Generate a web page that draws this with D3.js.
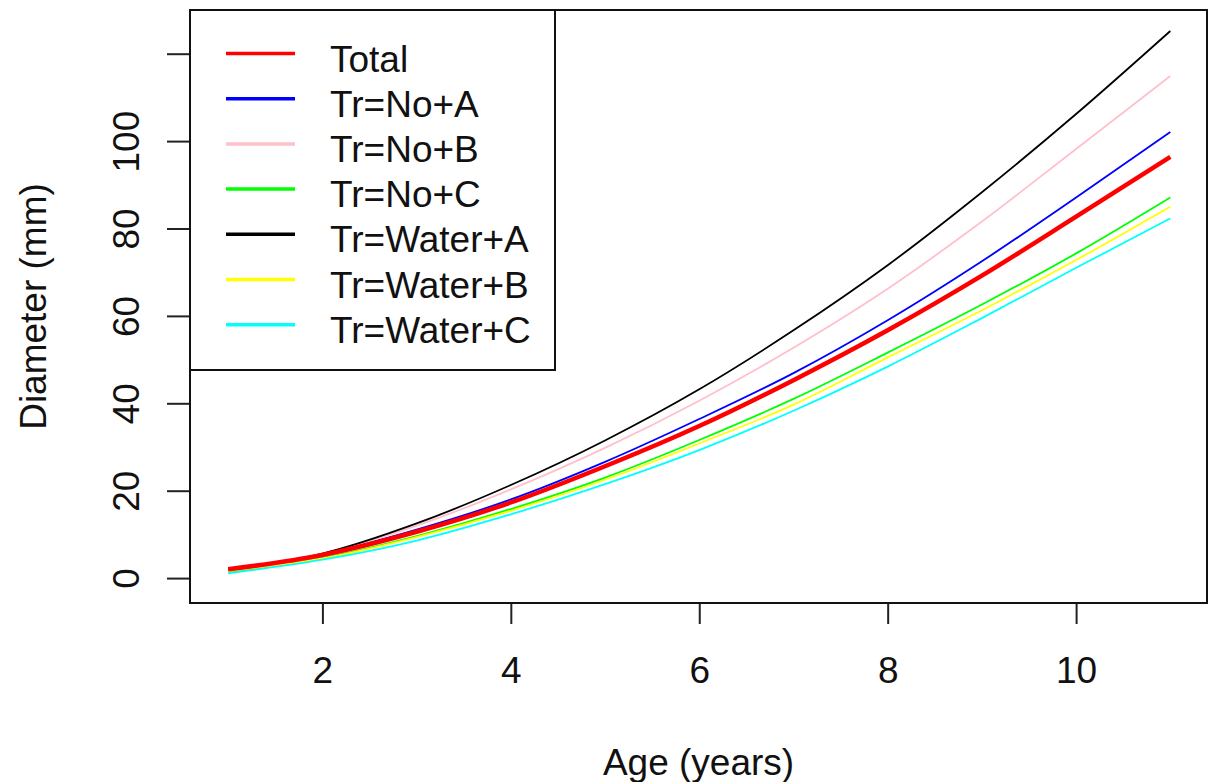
<!DOCTYPE html>
<html>
<head>
<meta charset="utf-8">
<script src="https://cdn.jsdelivr.net/npm/d3@7"></script>
<style>
  html, body { margin: 0; padding: 0; background: #fff; }
  svg { display: block; }
</style>
</head>
<body>
<div id="chart"></div>
<script>
// data (diameter in mm at each age)
const ages = [1, 2, 3, 4, 5, 6, 7, 8, 9, 10, 11];
const seriesNames = ["Total", "Tr=No+A", "Tr=No+B", "Tr=No+C", "Tr=Water+A", "Tr=Water+B", "Tr=Water+C"];
const seriesColours = ["#ff0000", "#0000ff", "#ffc0cb", "#00ff00", "#000000", "#ffff00", "#00ffff"];
const totalValues  = [2.0, 5.3, 10.6, 17.3, 25.6, 34.8, 45.3, 56.7, 69.2, 82.7, 96.4];
const noAValues    = [2.0, 5.5, 11.1, 18.0, 26.6, 36.4, 46.9, 59.0, 72.5, 87.1, 102.1];
const noBValues    = [2.0, 5.6, 12.0, 20.3, 29.8, 40.6, 52.7, 66.2, 81.6, 98.2, 114.9];
const noCValues    = [1.4, 4.6, 9.6, 15.8, 23.0, 31.6, 41.0, 51.6, 62.6, 74.3, 87.1];
const waterAValues = [2.0, 5.6, 12.5, 21.3, 31.5, 43.2, 56.7, 71.6, 88.3, 106.2, 125.2];
const waterBValues = [1.6, 4.5, 9.4, 15.4, 22.5, 30.8, 39.7, 50.5, 61.3, 72.8, 85.0];
const waterCValues = [1.1, 4.2, 8.6, 14.6, 21.5, 29.3, 38.3, 48.4, 59.5, 71.0, 82.3];
const xTicks = [2, 4, 6, 8, 10];
const yTicks = [0, 20, 40, 60, 80, 100, 120];
const yTickLabels = ["0", "20", "40", "60", "80", "100", ""];
const xTitle = "Age (years)";
const yTitle = "Diameter (mm)";

const width = 1209;
const height = 782;
const plot = {left: 190, right: 1207, top: 10, bottom: 603};
const font = "'Liberation Sans', Arial, Helvetica, sans-serif";
const fontSize = "37px";
const textCol = "#111";

const allValues = [totalValues, noAValues, noBValues, noCValues, waterAValues, waterBValues, waterCValues];
const series = seriesNames.map((name, i) => ({
  name: name,
  colour: seriesColours[i],
  values: ages.map((a, j) => ({age: a, d: allValues[i][j]}))
}));

const svg = d3.select("#chart").append("svg")
  .attr("width", width)
  .attr("height", height)
  .style("font-family", font);

/// Scales ///
const x = d3.scaleLinear()
  .domain([0.6, 11.4])
  .range([plot.left + 0.5, plot.right + 1]);

const y = d3.scaleLinear()
  .domain([-5.7, 130])
  .range([plot.bottom, plot.top]);

/// Axes ///
const xAxis = g => g
  .attr("transform", `translate(0, ${plot.bottom})`)
  .call(d3.axisBottom(x).tickValues(xTicks).tickSize(21).tickFormat(d3.format("d")))
  .call(g => g.select(".domain").remove())
  .call(g => g.selectAll(".tick line").attr("stroke", "#222").attr("stroke-width", 2))
  .call(g => g.selectAll(".tick text")
    .attr("y", 80)
    .attr("dy", null)
    .attr("fill", textCol)
    .style("font-size", fontSize)
    .style("font-family", font));

const yAxis = g => g
  .attr("transform", `translate(${plot.left}, 0)`)
  .call(d3.axisLeft(y).tickValues(yTicks).tickSize(23).tickFormat((d, i) => yTickLabels[i]))
  .call(g => g.select(".domain").remove())
  .call(g => g.selectAll(".tick line").attr("stroke", "#222").attr("stroke-width", 2))
  .call(g => g.selectAll(".tick text")
    .attr("x", null)
    .attr("dy", null)
    .attr("text-anchor", "middle")
    .attr("transform", "translate(-51, 0) rotate(-90)")
    .attr("fill", textCol)
    .style("font-size", fontSize)
    .style("font-family", font));

svg.append("g").call(xAxis);
svg.append("g").call(yAxis);

/// Axis titles ///
svg.append("text")
  .attr("x", (plot.left + plot.right) / 2)
  .attr("y", 775)
  .attr("text-anchor", "middle")
  .attr("fill", textCol)
  .style("font-size", fontSize)
  .text(xTitle);

svg.append("text")
  .attr("transform", `translate(46, ${(plot.top + plot.bottom) / 2}) rotate(-90)`)
  .attr("text-anchor", "middle")
  .attr("fill", textCol)
  .style("font-size", fontSize)
  .text(yTitle);

/// Lines ///
const line = d3.line()
  .x(d => x(d.age))
  .y(d => y(d.d))
  .curve(d3.curveMonotoneX);

// draw the thin ones first, then the total on top
svg.append("g")
  .selectAll("path")
  .data(series.slice(1).concat([series[0]]))
  .join("path")
    .attr("d", d => line(d.values))
    .attr("fill", "none")
    .attr("stroke", d => d.colour)
    .attr("stroke-width", d => d.name === "Total" ? 4.5 : 1.8)
    .attr("stroke-linejoin", "round");

/// Frame ///
svg.append("rect")
  .attr("x", plot.left)
  .attr("y", plot.top)
  .attr("width", plot.right - plot.left)
  .attr("height", plot.bottom - plot.top)
  .attr("fill", "none")
  .attr("stroke", "#111")
  .attr("stroke-width", 2);

/// Legend ///
const legendG = svg.append("g");
legendG.append("rect")
  .attr("x", plot.left)
  .attr("y", plot.top)
  .attr("width", 365)
  .attr("height", 360)
  .attr("fill", "#fff")
  .attr("stroke", "#111")
  .attr("stroke-width", 2);

const rows = legendG.selectAll(".legend-row")
  .data(series)
  .join("g")
  .classed("legend-row", true)
  .attr("transform", (d, i) => `translate(0, ${53.5 + i * 45.2})`);

rows.append("line")
  .attr("x1", 226)
  .attr("x2", 295)
  .attr("stroke", d => d.colour)
  .attr("stroke-width", 3.5);

rows.append("text")
  .attr("x", 330)
  .attr("y", 18)
  .attr("fill", textCol)
  .style("font-size", fontSize)
  .text(d => d.name);
</script>
</body>
</html>
